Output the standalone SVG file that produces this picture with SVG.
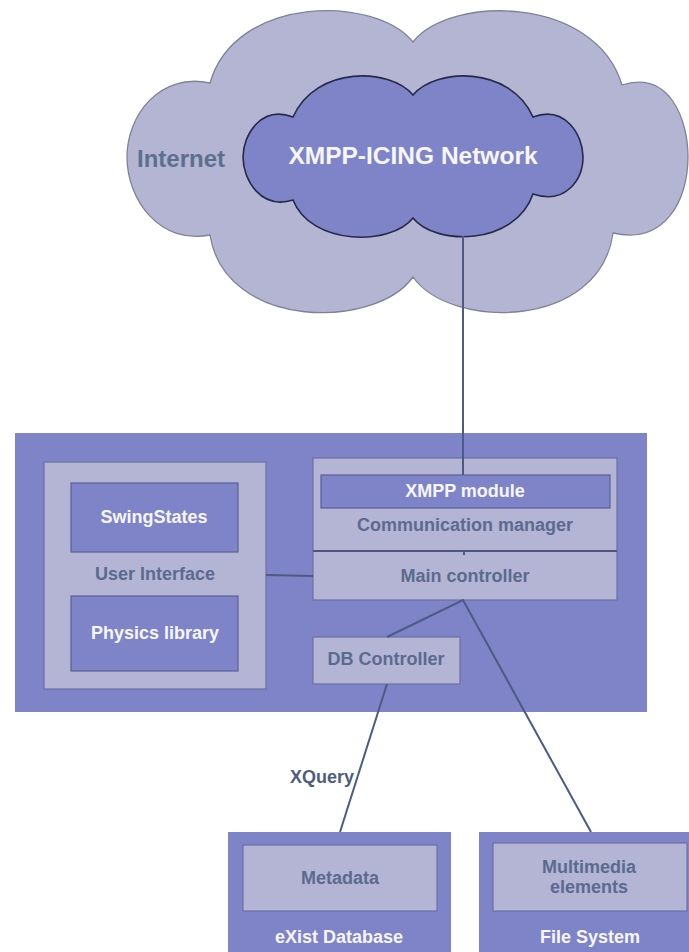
<svg xmlns="http://www.w3.org/2000/svg" width="689" height="952" viewBox="0 0 689 952">
<style>
text{font-family:"Liberation Sans",Arial,sans-serif;font-weight:bold;font-size:18px;text-anchor:middle}
.big{font-size:24px}
.net{font-size:24.5px}
.dark{fill:#7e84c7}
.light{fill:#b4b5d4;stroke:#6c71a6;stroke-width:1.2}
.inner{fill:#7e84c7;stroke:#5a5f98;stroke-width:1.2}
.lbl{fill:#5b6a8f}
.wht{fill:#f6f6fb}
.con{stroke:#4b5b82;stroke-width:2;fill:none}
</style>
<rect width="689" height="952" fill="#ffffff"/>
<g id="internet">
<path d="M413,42 C450,-5 595,-5 622,85 C670,70 688,120 688,157 C688,200 665,245 613,233 C600,330 450,330 413,277 C375,330 225,330 210,235 C160,245 127,200 127,157 C127,115 160,72 210,83 C235,-5 375,-5 413,42 Z" fill="#b4b5d3" stroke="#7e8299" stroke-width="1.3"/>
<text x="181" y="167" class="big" fill="#5d6f8f">Internet</text>
</g>
<g id="xmpp-icing">
<path d="M413,95 C435,68 510,65 533,117 C565,105 583,135 583,157 C583,180 565,205 533,194 C515,246 435,246 413,218 C391,246 311,246 293,200 C261,210 243,180 243,157 C243,135 261,105 293,117 C316,65 391,68 413,95 Z" fill="#7e84c7" stroke="#252a48" stroke-width="1.6"/>
<text x="413" y="164" class="net wht">XMPP-ICING Network</text>
</g>
<g id="application">
<rect x="15" y="433" width="632" height="279" class="dark"/>
</g>
<g id="user-interface">
<rect x="44" y="462" width="222" height="227" class="light"/>
<text x="155" y="580" class="lbl">User Interface</text>
</g>
<g id="swingstates">
<rect x="71" y="483" width="167" height="69" class="inner"/>
<text x="154" y="523" class="wht">SwingStates</text>
</g>
<g id="physics-library">
<rect x="71" y="596" width="167" height="75" class="inner"/>
<text x="155" y="639" class="wht">Physics library</text>
</g>
<g id="communication-manager">
<rect x="313" y="458" width="304" height="93" class="light"/>
<text x="465" y="531" class="lbl">Communication manager</text>
</g>
<g id="xmpp-module">
<rect x="321" y="475" width="289" height="33" class="inner"/>
<text x="465" y="497" class="wht">XMPP module</text>
</g>
<g id="main-controller">
<rect x="313" y="551" width="304" height="49" class="light"/>
<line x1="313" y1="551" x2="617" y2="551" stroke="#4e5680" stroke-width="2"/>
<text x="465" y="582" class="lbl">Main controller</text>
</g>
<g id="db-controller">
<rect x="313" y="637" width="147" height="47" class="light"/>
<text x="386" y="665" class="lbl">DB Controller</text>
</g>
<g id="exist-database">
<rect x="228" y="832" width="223" height="130" class="dark"/>
<rect x="243" y="845" width="194" height="66" class="light"/>
<text x="340" y="884" class="lbl">Metadata</text>
<text x="339" y="943" class="wht">eXist Database</text>
</g>
<g id="file-system">
<rect x="479" y="832" width="220" height="130" class="dark"/>
<rect x="493" y="843" width="194" height="68" class="light"/>
<text x="589" y="873" class="lbl">Multimedia</text>
<text x="589" y="893" class="lbl">elements</text>
<text x="590" y="943" class="wht">File System</text>
</g>
<g id="connectors">
<line x1="463" y1="236" x2="463" y2="475" class="con"/>
<line x1="464" y1="551" x2="464" y2="555" class="con" stroke-width="1.5"/>
<line x1="266" y1="575" x2="313" y2="576" class="con"/>
<polyline points="387,637 463,600 591,832" class="con"/>
<line x1="387" y1="684" x2="340" y2="832" class="con"/>
<text x="354" y="783" fill="#4e5d7e" style="text-anchor:end">XQuery</text>
</g>
</svg>
